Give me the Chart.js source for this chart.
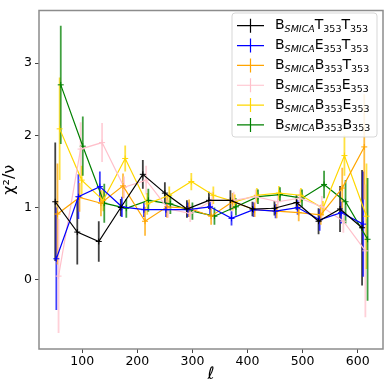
<!DOCTYPE html>
<html>
<head>
<meta charset="utf-8">
<script src="https://cdn.jsdelivr.net/npm/chart.js@4.4.0/dist/chart.umd.min.js"></script>
<style>
  html, body { margin: 0; padding: 0; background: #fff; }
</style>
</head>
<body>
<canvas id="chi2Chart" width="390" height="390"></canvas>
<script>
// multipole bins (shared), each spectrum slightly shifted so the bars don't overlap
const ellBins = [51, 91, 130, 170, 210, 250, 290, 330, 369, 409, 449, 489, 529, 568, 608];
const ellShift = [0, 2, 4, 6, 8, 10];

const seriesNames = ['TT', 'ET', 'BT', 'EE', 'BE', 'BB'];
const seriesColors = ['#000000', '#0000ff', '#ffa500', '#ffc0cb', '#ffd700', '#008000'];

// chi2 / dof values
const chiTT = [1.08, 0.66, 0.53, 1.00, 1.46, 1.20, 0.98, 1.10, 1.10, 0.98, 0.99, 1.07, 0.81, 0.98, 0.72];
const chiET = [0.29, 1.15, 1.29, 1.01, 0.97, 0.97, 0.97, 1.01, 0.85, 0.97, 0.95, 1.00, 0.83, 0.93, 0.77];
const chiBT = [0.91, 1.14, 1.06, 1.30, 0.81, 1.01, 0.99, 0.88, 1.08, 0.97, 0.95, 0.93, 0.90, 1.27, 1.84];
const chiEE = [0.05, 1.81, 1.90, 1.28, 1.38, 0.98, 0.92, 1.10, 1.10, 1.15, 1.08, 1.13, 1.01, 0.81, 0.40];
const chiBE = [2.09, 1.38, 1.10, 1.68, 1.05, 1.17, 1.36, 1.17, 1.08, 1.17, 1.20, 1.17, 0.99, 1.72, 0.88];
const chiBB = [2.70, 1.85, 1.06, 0.99, 1.10, 1.05, 0.95, 0.88, 1.01, 1.15, 1.18, 1.13, 1.32, 1.08, 0.56];

// error bars (half length)
const errTT = [0.82, 0.45, 0.28, 0.12, 0.20, 0.15, 0.12, 0.12, 0.14, 0.10, 0.10, 0.10, 0.18, 0.32, 0.80];
const errET = [0.71, 0.31, 0.21, 0.14, 0.10, 0.10, 0.10, 0.10, 0.10, 0.10, 0.10, 0.10, 0.15, 0.15, 0.73];
const errBT = [0.70, 0.20, 0.18, 0.17, 0.20, 0.15, 0.12, 0.12, 0.12, 0.10, 0.10, 0.12, 0.14, 0.28, 0.73];
const errEE = [0.79, 0.37, 0.27, 0.15, 0.20, 0.12, 0.12, 0.12, 0.12, 0.10, 0.10, 0.12, 0.15, 0.16, 0.92];
const errBE = [0.71, 0.20, 0.15, 0.18, 0.15, 0.12, 0.12, 0.12, 0.10, 0.10, 0.10, 0.10, 0.10, 0.28, 0.73];
const errBB = [0.82, 0.41, 0.27, 0.13, 0.16, 0.14, 0.12, 0.12, 0.12, 0.10, 0.10, 0.12, 0.19, 0.30, 0.85];

const xTicks = [100, 200, 300, 400, 500, 600];
const yTicks = [0, 1, 2, 3];

// legend text: [main letter, subscript] pieces
const legendLabels = [
    [['B', 'SMICA'], ['T', '353'], ['T', '353']],
    [['B', 'SMICA'], ['E', '353'], ['T', '353']],
    [['B', 'SMICA'], ['B', '353'], ['T', '353']],
    [['B', 'SMICA'], ['E', '353'], ['E', '353']],
    [['B', 'SMICA'], ['B', '353'], ['E', '353']],
    [['B', 'SMICA'], ['B', '353'], ['B', '353']],
];

const allChi = [chiTT, chiET, chiBT, chiEE, chiBE, chiBB];
const allErr = [errTT, errET, errBT, errEE, errBE, errBB];

const FONT = 'DejaVu Sans';

let datasets = seriesNames.map((name, i) => ({
    label: name,
    data: allChi[i].map((v, k) => ({ x: ellBins[k] + ellShift[i], y: v, e: allErr[i][k] })),
    borderColor: seriesColors[i],
    backgroundColor: seriesColors[i],
    borderWidth: 1.2,
    pointStyle: 'cross',
    pointRadius: 3,
    pointBorderWidth: 1,
    tension: 0,
    fill: false,
}));

const errorBars = {
    id: 'errorBars',
    beforeDatasetsDraw(chart) {
        const { ctx, scales: { x, y }, chartArea } = chart;
        ctx.save();
        ctx.beginPath();
        ctx.rect(chartArea.left, chartArea.top, chartArea.width, chartArea.height);
        ctx.clip();
        chart.data.datasets.forEach(ds => {
            ctx.strokeStyle = ds.borderColor;
            ctx.globalAlpha = 0.75;
            ctx.lineWidth = 1.8;
            ds.data.forEach(p => {
                const px = x.getPixelForValue(p.x);
                ctx.beginPath();
                ctx.moveTo(px, y.getPixelForValue(p.y - p.e));
                ctx.lineTo(px, y.getPixelForValue(p.y + p.e));
                ctx.stroke();
            });
        });
        ctx.restore();
    }
};

const frame = {
    id: 'frame',
    afterDraw(chart) {
        const { ctx, chartArea: a } = chart;
        ctx.save();
        ctx.strokeStyle = '#8c8c8c';
        ctx.lineWidth = 1.5;
        ctx.strokeRect(a.left, a.top, a.width, a.height);
        ctx.restore();
    }
};

const subLegend = {
    id: 'subLegend',
    afterDraw(chart) {
        const ctx = chart.ctx;
        ctx.save();
        // box
        const bx = 232, by = 13, bw = 145, bh = 124, r = 3;
        ctx.globalAlpha = 0.85;
        ctx.fillStyle = '#fff';
        ctx.strokeStyle = '#d0d0d0';
        ctx.lineWidth = 1;
        ctx.beginPath();
        ctx.roundRect(bx, by, bw, bh, r);
        ctx.fill();
        ctx.stroke();
        ctx.globalAlpha = 1;

        legendLabels.forEach((parts, i) => {
            const cy = 25.7 + i * 19.85;
            ctx.strokeStyle = seriesColors[i];
            ctx.lineWidth = 1.2;
            ctx.beginPath();
            ctx.moveTo(237, cy);
            ctx.lineTo(264, cy);
            ctx.moveTo(250.5, cy - 7);
            ctx.lineTo(250.5, cy + 7);
            ctx.stroke();

            let tx = 275;
            ctx.fillStyle = '#000';
            ctx.textBaseline = 'middle';
            parts.forEach(([main, sub]) => {
                ctx.font = '14px "' + FONT + '"';
                ctx.fillText(main, tx, cy);
                tx += ctx.measureText(main).width;
                ctx.font = (sub === 'SMICA' ? 'italic ' : '') + '9.5px "' + FONT + '"';
                ctx.fillText(sub, tx, cy + 4);
                tx += ctx.measureText(sub).width;
            });
        });
        ctx.restore();
    }
};

let chart = new Chart(document.getElementById('chi2Chart').getContext('2d'), {
    type: 'line',
    data: { datasets: datasets },
    options: {
        responsive: false,
        animation: false,
        devicePixelRatio: 1,
        layout: { padding: { top: 7, right: 7, left: 0, bottom: 0 } },
        plugins: {
            legend: { display: false },
            tooltip: { enabled: false },
        },
        scales: {
            x: {
                type: 'linear',
                min: 21.5,
                max: 646,
                afterBuildTicks: s => { s.ticks = xTicks.map(v => ({ value: v })); },
                afterFit: s => { s.height = 41; },
                ticks: {
                    color: '#000',
                    padding: 1,
                    maxRotation: 0,
                    font: { family: FONT, size: 12.5 },
                },
                grid: { drawOnChartArea: false, drawTicks: true, tickLength: 4, color: '#444' },
                border: { display: false },
                title: {
                    display: true,
                    text: 'ℓ',
                    color: '#000',
                    padding: { top: 0, bottom: 5 },
                    font: { family: FONT, size: 17, style: 'italic' },
                },
            },
            y: {
                type: 'linear',
                min: -0.96,
                max: 3.73,
                afterBuildTicks: s => { s.ticks = yTicks.map(v => ({ value: v })); },
                afterFit: s => { s.width = 39; },
                ticks: {
                    color: '#000',
                    padding: 3,
                    font: { family: FONT, size: 12.5 },
                },
                grid: { drawOnChartArea: false, drawTicks: true, tickLength: 4, color: '#444' },
                border: { display: false },
                title: {
                    display: true,
                    text: 'χ²/ν',
                    color: '#000',
                    padding: { top: 0, bottom: 4 },
                    font: { family: FONT, size: 16 },
                },
            }
        }
    },
    plugins: [errorBars, frame, subLegend]
});
</script>
</body>
</html>
